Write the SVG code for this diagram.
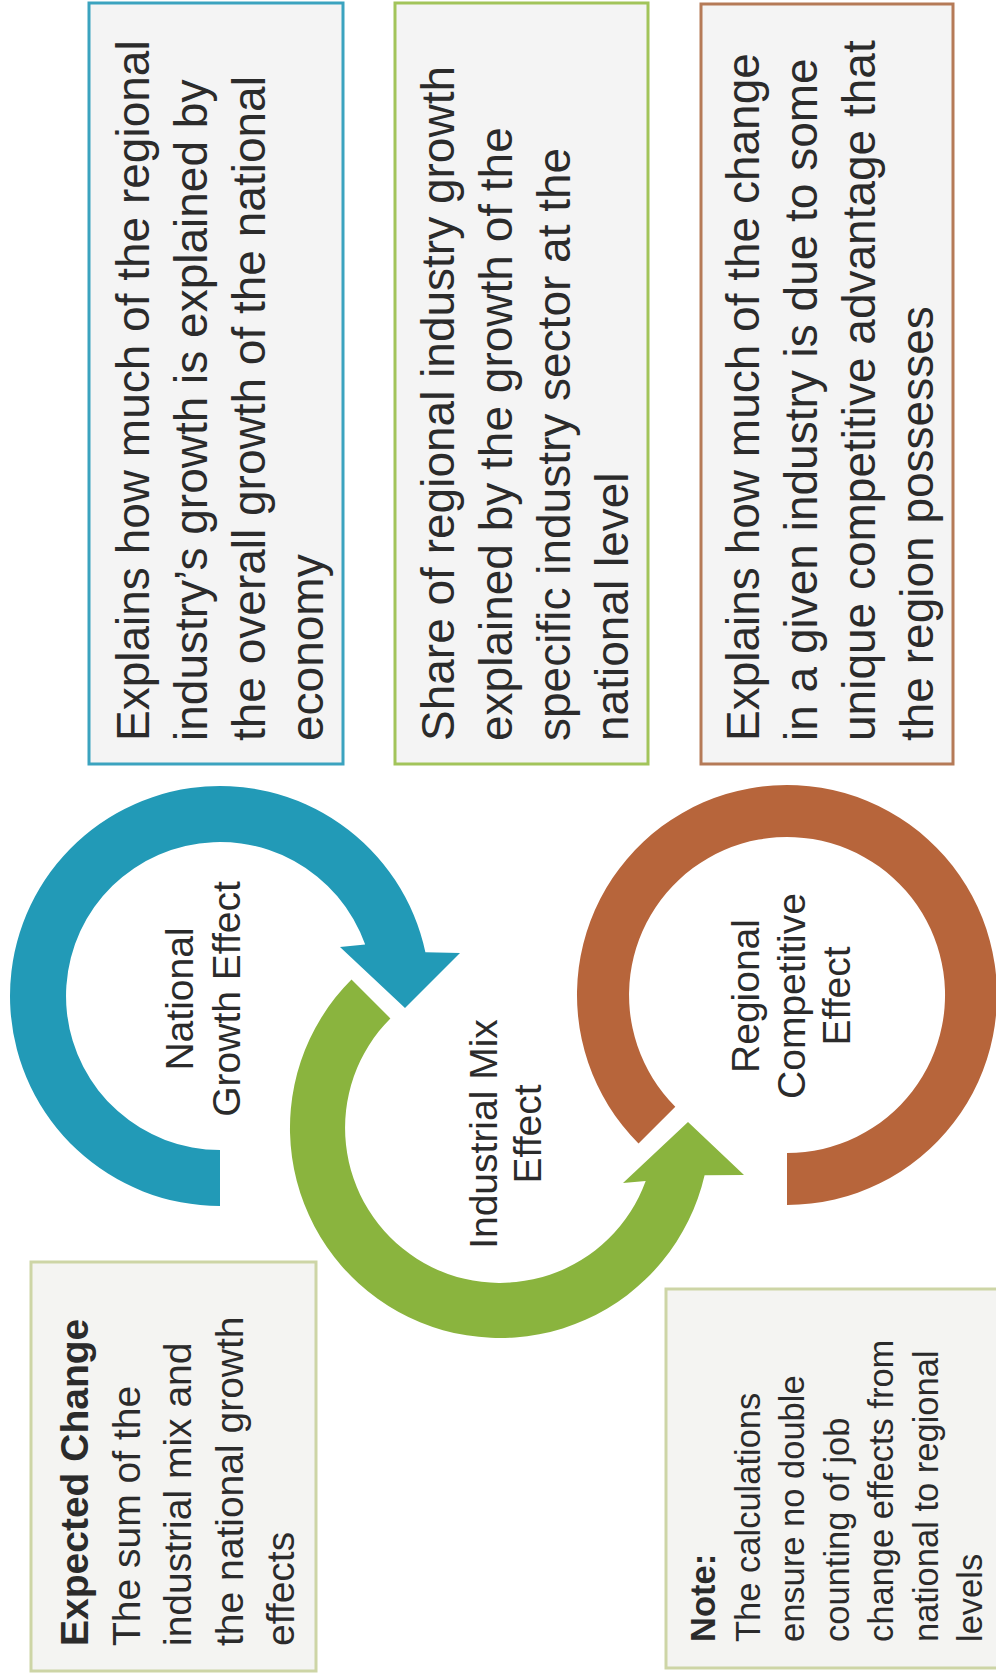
<svg xmlns="http://www.w3.org/2000/svg" width="996" height="1680" viewBox="0 0 996 1680">
<style>
.t{font-family:"Liberation Sans",Arial,Helvetica,sans-serif;fill:#2b2b2b}
.bx{font-size:46px}
.sm{font-size:39px}
.nt{font-size:34.5px}
.lb{font-size:39px;text-anchor:middle}
.b{font-weight:bold}
.box{fill:#f4f4f4;stroke-width:3}
.pale{fill:#f4f4f2;stroke:#cdd5a6;stroke-width:3}
</style>
<rect width="996" height="1680" fill="#ffffff"/>

<g id="box-national">
<rect class="box" x="89" y="3" width="254" height="761" stroke="#3ba3bf"/>
<text class="t bx" transform="translate(149,741) rotate(-90)"><tspan x="0" y="0">Explains how much of the regional</tspan><tspan x="0" dy="58">industry’s growth is explained by</tspan><tspan x="0" dy="58">the overall growth of the national</tspan><tspan x="0" dy="58">economy</tspan></text>
</g>

<g id="box-mix">
<rect class="box" x="395" y="3" width="253" height="761" stroke="#a2c45a"/>
<text class="t bx" transform="translate(454,741) rotate(-90)"><tspan x="0" y="0">Share of regional industry growth</tspan><tspan x="0" dy="58">explained by the growth of the</tspan><tspan x="0" dy="58">specific industry sector at the</tspan><tspan x="0" dy="58">national level</tspan></text>
</g>

<g id="box-regional">
<rect class="box" x="701" y="4" width="252" height="760" stroke="#b57a57"/>
<text class="t bx" transform="translate(759,741) rotate(-90)"><tspan x="0" y="0">Explains how much of the change</tspan><tspan x="0" dy="58">in a given industry is due to some</tspan><tspan x="0" dy="58">unique competitive advantage that</tspan><tspan x="0" dy="58">the region possesses</tspan></text>
</g>

<g id="node-national">
<path fill="#229ab7" d="M220 1206 A210 210 0 1 1 425.4 952.3 L460 953 L405 1008 L340 947 L365.2 944.6 A154 154 0 1 0 220 1150 Z"/>
<text class="t lb" transform="translate(193,999) rotate(-90)"><tspan x="0" y="0">National</tspan><tspan x="0" dy="47">Growth Effect</tspan></text>
</g>

<g id="node-mix">
<path fill="#8ab43e" d="M351.5 979.5 A210 210 0 1 0 704.6 1175.2 L744 1175 L688 1122 L623 1183 L645.7 1181 A155 155 0 1 1 390.4 1018.4 Z"/>
<text class="t lb" transform="translate(497,1134) rotate(-90)"><tspan x="0" y="0">Industrial Mix</tspan><tspan x="0" dy="44">Effect</tspan></text>
</g>

<g id="node-regional">
<path fill="#b7653b" d="M787 1205 A210 210 0 1 0 638.5 1143.5 L675.3 1106.7 A158 158 0 1 1 787 1153 Z"/>
<text class="t lb" transform="translate(759,996) rotate(-90)"><tspan x="0" y="0">Regional</tspan><tspan x="0" dy="46">Competitive</tspan><tspan x="0" dy="45">Effect</tspan></text>
</g>

<g id="connectors"></g>

<g id="box-expected">
<rect class="pale" x="31" y="1262" width="285" height="409"/>
<text class="t sm" transform="translate(88,1646) rotate(-90)"><tspan x="0" y="0" class="b">Expected Change</tspan><tspan x="0" dy="51.5">The sum of the</tspan><tspan x="0" dy="51.5">industrial mix and</tspan><tspan x="0" dy="51.5">the national growth</tspan><tspan x="0" dy="51.5">effects</tspan></text>
</g>

<g id="box-note">
<rect class="pale" x="666" y="1289" width="340" height="379"/>
<text class="t nt" transform="translate(715,1642) rotate(-90)"><tspan x="0" y="0" class="b">Note:</tspan><tspan x="0" dy="44.5">The calculations</tspan><tspan x="0" dy="44.5">ensure no double</tspan><tspan x="0" dy="44.5">counting of job</tspan><tspan x="0" dy="44.5">change effects from</tspan><tspan x="0" dy="44.5">national to regional</tspan><tspan x="0" dy="44.5">levels</tspan></text>
</g>
</svg>
